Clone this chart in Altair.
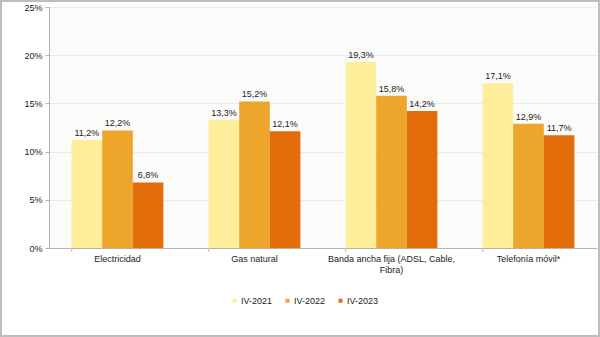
import altair as alt
import pandas as pd

categories = ["Electricidad", "Gas natural", "Banda ancha fija (ADSL, Cable, Fibra)", "Telefonía móvil*"]
series = ["IV-2021", "IV-2022", "IV-2023"]
v2021 = [11.2, 13.3, 19.3, 17.1]
v2022 = [12.2, 15.2, 15.8, 12.9]
v2023 = [6.8, 12.1, 14.2, 11.7]
colors = ["#FFEE99", "#EDA52B", "#E36C0B"]

rows = []
for s, vals in zip(series, [v2021, v2022, v2023]):
    for c, v in zip(categories, vals):
        rows.append({"cat": c, "serie": s, "val": v / 100.0,
                     "lbl": f"{v:.1f}%".replace(".", ",")})
df = pd.DataFrame(rows)

W, H = 548, 241
FONT = "Liberation Sans"

xscale = alt.Scale(domain=categories, paddingInner=0.33, paddingOuter=0.165)
yscale = alt.Scale(domain=[0, 0.25], nice=False)

base = alt.Chart(df)

bars = base.mark_bar().encode(
    x=alt.X("cat:N", sort=categories, scale=xscale,
            axis=alt.Axis(title=None, labelAngle=0, ticks=False, domain=True,
                          domainColor="#b4b4b4", labelFontSize=9, labelColor="#222",
                          labelPadding=6, labelExpr="datum.value == 'Banda ancha fija (ADSL, Cable, Fibra)' ? ['Banda ancha fija (ADSL, Cable,', 'Fibra)'] : datum.value",
                          labelLineHeight=11)),
    xOffset=alt.XOffset("serie:N", sort=series, scale=alt.Scale(paddingInner=0, paddingOuter=0)),
    y=alt.Y("val:Q", scale=yscale,
            axis=alt.Axis(title=None, format=".0%", values=[0, 0.05, 0.1, 0.15, 0.2, 0.25],
                          labelFontSize=9, labelColor="#222", grid=True, gridColor="#ebebe6",
                          domainColor="#b4b4b4", tickColor="#b4b4b4", tickSize=4, labelPadding=3)),
    color=alt.Color("serie:N", sort=series, scale=alt.Scale(domain=series, range=colors),
                    legend=alt.Legend(title=None, orient="none", direction="horizontal",
                                      legendX=181, legendY=289, symbolType="square",
                                      symbolSize=16, symbolStrokeWidth=0, labelFontSize=9,
                                      labelColor="#222", columnPadding=10, labelOffset=2,
                                      labelFont=FONT)),
)

labels = base.mark_text(dy=-7, fontSize=9, color="#222", font=FONT).encode(
    x=alt.X("cat:N", sort=categories, scale=xscale),
    xOffset=alt.XOffset("serie:N", sort=series),
    y=alt.Y("val:Q", scale=yscale),
    text="lbl:N",
)

ticks = base.mark_rule(color="#c8c8c8").encode(
    x=alt.X("cat:N", sort=categories, scale=xscale, bandPosition=0),
    y=alt.value(H),
    y2=alt.value(H + 4),
)

border = base.mark_rect(fill=None, stroke="#bdbdbd", strokeWidth=1.5, clip=False).encode(
    x=alt.value(-48.5), x2=alt.value(550.5), y=alt.value(-6.5), y2=alt.value(329.5)
)

chart = alt.layer(bars, labels, ticks, border).properties(
    width=W, height=H,
    autosize=alt.AutoSizeParams(type="none"),
    padding={"left": 49, "top": 7, "right": 3, "bottom": 89},
    background="white",
).configure_view(stroke=None, fill="#fbfbfa").configure_axis(
    labelFont=FONT
).configure_text(font=FONT)

chart.save("out.html", embed_options={"renderer": "svg", "actions": False})
